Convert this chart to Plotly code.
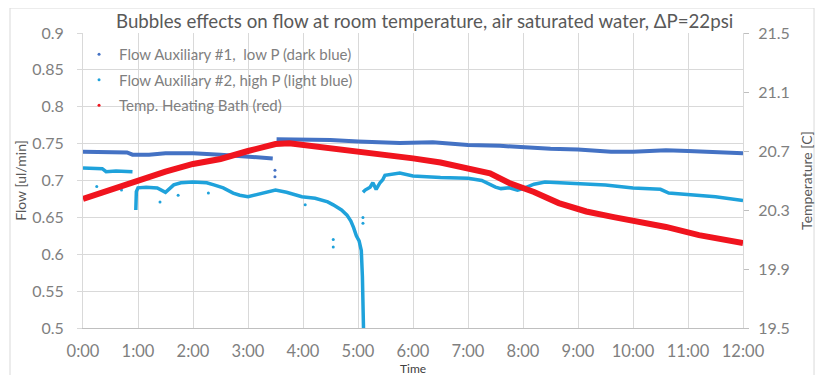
import plotly.graph_objects as go

# ---------------- data (time in hours) ----------------
hour_ticks = list(range(0, 13))
hour_labels = ["0:00", "1:00", "2:00", "3:00", "4:00", "5:00", "6:00",
               "7:00", "8:00", "9:00", "10:00", "11:00", "12:00"]

flow_ticks = [0.5, 0.55, 0.6, 0.65, 0.7, 0.75, 0.8, 0.85, 0.9]
flow_labels = ["0.5", "0.55", "0.6", "0.65", "0.7", "0.75", "0.8", "0.85", "0.9"]
temp_ticks = [19.5, 19.9, 20.3, 20.7, 21.1, 21.5]
temp_labels = ["19.5", "19.9", "20.3", "20.7", "21.1", "21.5"]

# Flow Auxiliary #1 (dark blue) - two segments separated by a jump at ~3:30
aux1_t = [0.0, 0.5, 0.8, 0.9, 1.2, 1.5, 2.0, 2.5, 3.0, 3.2, 3.45, None,
          3.52, 4.0, 4.5, 5.0, 5.76, 6.36, 7.0, 7.58, 8.0, 8.5, 9.0, 9.6, 10.0,
          10.6, 11.0, 11.5, 12.0]
aux1_v = [0.739, 0.739, 0.738, 0.735, 0.735, 0.737, 0.737, 0.735, 0.733, 0.732, 0.730, None,
          0.756, 0.756, 0.755, 0.753, 0.751, 0.752, 0.748, 0.747, 0.745, 0.743, 0.742, 0.739, 0.739,
          0.741, 0.740, 0.739, 0.737]

# Flow Auxiliary #2 (light blue)
aux2_t = [0.0, 0.2, 0.35, 0.42, 0.6, 0.9, None,
          0.96, 0.97, 1.0, 1.15, 1.35, 1.5, 1.65, 1.78, 2.0, 2.25, 2.38, 2.55, 2.73, 2.85,
          3.0, 3.3, 3.5, 3.7, 3.98, 4.22, 4.45, 4.55, 4.7, 4.8, 4.87, 4.92, 4.97,
          5.02, 5.06, 5.08, 5.09, 5.10, None,
          5.09, 5.13, 5.22, 5.27, 5.33, 5.40, 5.45, 5.49, 5.76, 6.0, 6.5, 7.0, 7.25,
          7.4, 7.5, 7.6, 7.75, 7.9, 8.0, 8.2, 8.4, 8.67, 9.0, 9.5, 10.0, 10.5, 10.65,
          11.0, 11.5, 12.0]
aux2_v = [0.717, 0.716, 0.716, 0.712, 0.713, 0.712, None,
          0.660, 0.685, 0.690, 0.691, 0.690, 0.684, 0.694, 0.697, 0.698, 0.697, 0.694, 0.690,
          0.683, 0.680, 0.678, 0.684, 0.687, 0.684, 0.678, 0.676, 0.671, 0.667, 0.660, 0.653,
          0.645, 0.636, 0.625, 0.618, 0.605, 0.570, 0.530, 0.500, None,
          0.684, 0.687, 0.691, 0.697, 0.688, 0.697, 0.701, 0.707, 0.710, 0.706, 0.704, 0.703,
          0.700, 0.694, 0.691, 0.689, 0.690, 0.687, 0.689, 0.695, 0.698, 0.697, 0.696, 0.694,
          0.690, 0.688, 0.683, 0.681, 0.678, 0.673]

# scattered single readings
aux1_out_t = [3.49, 3.49]
aux1_out_v = [0.714, 0.705]
aux2_out_t = [0.25, 0.70, 1.40, 1.73, 2.28, 4.04, 4.55, 4.55, 5.09, 5.09]
aux2_out_v = [0.692, 0.687, 0.671, 0.680, 0.683, 0.667, 0.620, 0.610, 0.650, 0.642]

# Temperature of heating bath (red), right axis
temp_t = [0.0, 0.5, 1.0, 1.5, 2.0, 2.5, 3.0, 3.5, 3.75, 4.0, 4.5, 5.0, 5.5, 6.0,
          6.5, 7.0, 7.4, 7.75, 8.2, 8.65, 9.15, 9.65, 10.1, 10.6, 11.2, 12.0]
temp_v = [20.375, 20.436, 20.503, 20.560, 20.612, 20.646, 20.700, 20.747, 20.752,
          20.741, 20.720, 20.693, 20.680, 20.650, 20.622, 20.580, 20.548, 20.483,
          20.422, 20.347, 20.290, 20.252, 20.219, 20.185, 20.130, 20.076]

DARK = "#4472C4"
LIGHT = "#1FA2DB"
RED = "#F0141E"
FONT = "Lato"

fig = go.Figure()

fig.add_trace(go.Scatter(x=aux1_t, y=aux1_v, mode="lines", line=dict(color=DARK, width=4),
                         connectgaps=False, showlegend=False, hoverinfo="skip"))
fig.add_trace(go.Scatter(x=aux1_out_t, y=aux1_out_v, mode="markers",
                         marker=dict(color=DARK, size=3), showlegend=False, hoverinfo="skip"))
fig.add_trace(go.Scatter(x=aux2_t, y=aux2_v, mode="lines", line=dict(color=LIGHT, width=3.5),
                         connectgaps=False, showlegend=False, hoverinfo="skip"))
fig.add_trace(go.Scatter(x=aux2_out_t, y=aux2_out_v, mode="markers",
                         marker=dict(color=LIGHT, size=3), showlegend=False, hoverinfo="skip"))
fig.add_trace(go.Scatter(x=temp_t, y=temp_v, mode="lines", line=dict(color=RED, width=6),
                         yaxis="y2", showlegend=False, hoverinfo="skip"))

# legend entries (small dots like the original)
fig.add_trace(go.Scatter(x=[None], y=[None], mode="markers", marker=dict(color=DARK, size=3),
                         name="Flow Auxiliary #1,  low P (dark blue)", legendgroup="a"))
fig.add_trace(go.Scatter(x=[None], y=[None], mode="markers", marker=dict(color=LIGHT, size=3),
                         name="Flow Auxiliary #2, high P (light blue)", legendgroup="b"))
fig.add_trace(go.Scatter(x=[None], y=[None], mode="markers", marker=dict(color=RED, size=3),
                         name="Temp. Heating Bath (red)", legendgroup="c"))

fig.update_layout(
    width=825, height=375,
    margin=dict(l=75, r=90, t=25, b=55),
    paper_bgcolor="white", plot_bgcolor="white",
    font=dict(family=FONT, color="#7f7f7f"),
    title=dict(text="Bubbles effects on flow at room temperature, air saturated water, \u0394P=22psi",
               x=0.505, xanchor="center", y=0.965, yanchor="middle",
               font=dict(size=18.7, color="#595959", family=FONT)),
    legend=dict(x=-0.006, y=0.983, xanchor="left", yanchor="top", bgcolor="rgba(0,0,0,0)",
                font=dict(size=15, color="#7f7f7f", family=FONT), traceorder="grouped",
                tracegroupgap=3, itemwidth=30),
    xaxis=dict(range=[0, 12], tickvals=hour_ticks, ticktext=hour_labels, automargin=False,
               showgrid=True, gridcolor="#d9d9d9", gridwidth=1, zeroline=False,
               showline=True, linecolor="#bfbfbf", linewidth=1, mirror=False,
               ticks="", ticklabelstandoff=8,
               tickfont=dict(size=16.5, color="#7f7f7f", family=FONT)),
    yaxis=dict(range=[0.5, 0.9], tickvals=flow_ticks, ticktext=flow_labels, automargin=False,
               showgrid=True, gridcolor="#d9d9d9", gridwidth=1, zeroline=False,
               showline=True, linecolor="#d9d9d9", ticks="outside", ticklen=5, tickcolor="#d9d9d9",
               ticklabelstandoff=10,
               tickfont=dict(size=16, color="#7f7f7f", family=FONT),
               title=dict(text="Flow [ul/min]", standoff=2, font=dict(size=14, color="#595959", family=FONT))),
    yaxis2=dict(range=[19.5, 21.5], tickvals=temp_ticks, ticktext=temp_labels, overlaying="y",
                automargin=False,
                side="right", showgrid=False, zeroline=False, showline=True, linecolor="#d9d9d9",
                ticks="outside", ticklen=5, tickcolor="#bfbfbf", ticklabelstandoff=6,
                tickfont=dict(size=16, color="#7f7f7f", family=FONT),
                title=dict(text="Temperature [C]", standoff=13, font=dict(size=14, color="#595959", family=FONT))),
    annotations=[dict(text="Time", xref="paper", yref="paper", x=0.5, y=-0.138,
                      xanchor="center", yanchor="middle", showarrow=False,
                      font=dict(size=12, color="#404040", family=FONT))],
    shapes=[dict(type="rect", xref="paper", yref="paper", x0=-0.1106, x1=1.1076, y0=-0.2, y1=1.0847,
                 line=dict(color="#d9d9d9", width=1), fillcolor="rgba(0,0,0,0)", layer="below")],
)

fig.write_html("out.html")
